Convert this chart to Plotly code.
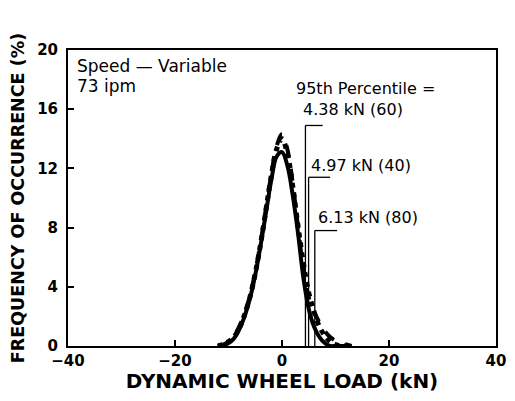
import plotly.graph_objects as go

# dynamic wheel load (kN) and frequency of occurrence (%)
load = [-12, -11, -10, -9, -8, -7, -6, -5, -4, -3, -2, -1, 0,
        1, 2, 3, 4, 5, 6, 7, 8, 9, 10, 11, 12, 13]
freq_solid = [0, 0.05, 0.2, 0.5, 1.1, 2.0, 3.2, 4.8, 6.8, 9.0, 11.2, 12.8, 13.1,
              12.2, 10.2, 7.6, 4.6, 2.5, 1.3, 0.6, 0.2, 0, 0, 0, 0, 0]
freq_dashed = [0, 0.1, 0.3, 0.7, 1.3, 2.2, 3.4, 5.0, 7.0, 9.3, 11.6, 13.5, 14.3,
               13.3, 11.0, 8.0, 5.2, 3.3, 2.3, 1.6, 1.0, 0.6, 0.35, 0.2, 0.1, 0]
freq_dotted = [0, 0.1, 0.3, 0.6, 1.2, 2.1, 3.3, 4.9, 6.9, 9.2, 11.5, 13.3, 14.0,
               13.0, 10.8, 8.1, 5.6, 3.6, 2.3, 1.3, 0.7, 0.3, 0.1, 0, 0, 0]

# 95th percentile values and their labels
pct_values = [4.38, 4.97, 6.13]
pct_labels = ["4.38 kN (60)", "4.97 kN (40)", "6.13 kN (80)"]
pct_leader_y = [14.9, 11.4, 7.8]
pct_leader_end = [7.6, 9.0, 10.3]
pct_label_x = [3.5, 5.0, 6.3]
pct_label_y = [15.95, 12.2, 8.7]

x_ticks = [-40, -20, 0, 20, 40]
x_tick_text = ["\u221240", "\u221220", "0", "20", "40"]
y_ticks = [0, 4, 8, 12, 16, 20]

FONT = "DejaVu Sans"

fig = go.Figure()

fig.add_trace(go.Scatter(x=load, y=freq_solid, mode="lines",
                         line=dict(color="black", width=4, shape="spline"),
                         showlegend=False))
fig.add_trace(go.Scatter(x=load, y=freq_dashed, mode="lines",
                         line=dict(color="black", width=4, dash="dash", shape="spline"),
                         showlegend=False))
fig.add_trace(go.Scatter(x=load, y=freq_dotted, mode="lines",
                         line=dict(color="black", width=5, dash="dot", shape="spline"),
                         showlegend=False))

# percentile markers: vertical line + leader + label
for v, lab, ly, le, tx, ty in zip(pct_values, pct_labels, pct_leader_y,
                                  pct_leader_end, pct_label_x, pct_label_y):
    fig.add_shape(type="line", x0=v, x1=v, y0=0, y1=ly,
                  line=dict(color="black", width=1.3))
    fig.add_shape(type="line", x0=v, x1=le, y0=ly, y1=ly,
                  line=dict(color="black", width=1.3))
    fig.add_annotation(x=tx, y=ty, text=lab, showarrow=False,
                       xanchor="left", yanchor="middle",
                       font=dict(family=FONT, size=16, color="black"))

fig.add_annotation(x=-38.7, y=18.9, text="Speed \u2014 Variable",
                   showarrow=False, xanchor="left", yanchor="middle",
                   font=dict(family=FONT, size=17, color="black"))
fig.add_annotation(x=-38.7, y=17.55, text="73 ipm",
                   showarrow=False, xanchor="left", yanchor="middle",
                   font=dict(family=FONT, size=17, color="black"))
fig.add_annotation(x=2.3, y=17.4, text="95th Percentile =",
                   showarrow=False, xanchor="left", yanchor="middle",
                   font=dict(family=FONT, size=16, color="black"))

fig.update_xaxes(range=[-40, 40], tickvals=x_ticks, ticktext=x_tick_text,
                 ticks="inside", ticklen=6, tickwidth=1.5, tickcolor="black",
                 showline=True, linecolor="black", linewidth=2, mirror=True,
                 showgrid=False, zeroline=False, automargin=False,
                 tickfont=dict(family=FONT, size=15, color="black", weight="bold"),
                 title=dict(text="DYNAMIC WHEEL LOAD (kN)", standoff=4,
                            font=dict(family=FONT, size=20, color="black", weight="bold")))
fig.update_yaxes(range=[0, 20], tickvals=y_ticks,
                 ticks="inside", ticklen=6, tickwidth=1.5, tickcolor="black",
                 showline=True, linecolor="black", linewidth=2, mirror=True,
                 showgrid=False, zeroline=False, ticklabelstandoff=5, automargin=False,
                 tickfont=dict(family=FONT, size=15, color="black", weight="bold"),
                 title=dict(text="FREQUENCY OF OCCURRENCE (%)", standoff=13,
                            font=dict(family=FONT, size=17.5, color="black", weight="bold")))

# the page body adds an 8 px offset; margins put the plot area close to
# where the reference has it while keeping the last x tick label visible
fig.update_layout(
    width=505, height=385,
    margin=dict(l=60, r=17, t=42, b=47),
    plot_bgcolor="white",
    paper_bgcolor="white",
)

fig.write_html("out.html")
